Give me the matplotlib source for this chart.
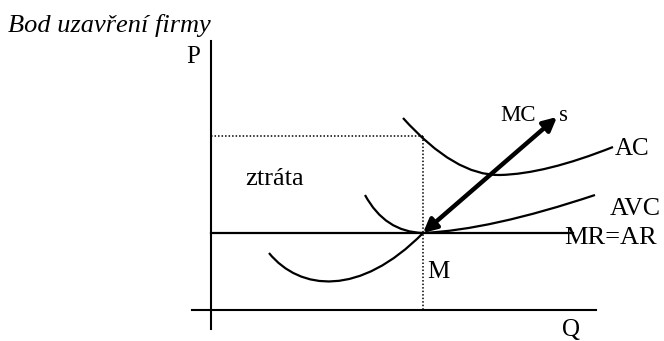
import matplotlib as mpl
mpl.use('Agg')
import matplotlib.pyplot as plt
from matplotlib.path import Path
from matplotlib.patches import PathPatch, FancyArrowPatch

# souradnice schematu (v pixelech obrazku, osa y smeruje dolu)
osa_p = [(211, 41), (211, 329)]
osa_q = [(192, 310), (596, 310)]
mr_ar = [(211, 233), (573, 233)]
bod_m = (423, 233)
cena_ac = 136

# krivky jako Bezierovy body (start, ridici, konec)
mc_body = [(269, 253), (300, 291), (360, 297), (423, 233)]
avc_levy = [(365, 195), (385, 232), (423, 233)]
avc_pravy = [(423, 233), (490, 230), (595, 195)]
ac_levy = [(403, 118), (455, 176), (500, 175)]
ac_pravy = [(500, 175), (545, 174), (613, 147)]
sipka_mc = [(423, 233), (557, 117)]

# (text, x, y, velikost)
popisky = [
    ("P", 186, 63, 18), ("Q", 562, 336, 18), ("M", 427, 278, 18),
    ("ztráta", 245, 185, 19), ("MC", 500, 121, 16.5), ("s", 559, 121, 16.5),
    ("AC", 615, 155, 18), ("AVC", 610, 215, 18.5), ("MR=AR", 564, 244, 19),
]

fig = plt.figure(figsize=(6.64, 3.41), dpi=100)
ax = fig.add_axes([0, 0, 1, 1])
ax.set_xlim(0, 664)
ax.set_ylim(341, 0)
ax.axis('off')

# osy
ax.plot(*zip(*osa_p), color='black', lw=1.5)
ax.plot(*zip(*osa_q), color='black', lw=1.5)
ax.plot(*zip(*mr_ar), color='black', lw=1.6)

# teckovane cary
ax.plot([osa_p[0][0], bod_m[0]], [cena_ac, cena_ac], color='black', lw=1.1, ls=(0, (1, 1.3)))
ax.plot([bod_m[0], bod_m[0]], [cena_ac, osa_q[0][1]], color='black', lw=1.1, ls=(0, (1, 1.3)))


def krivka(body):
    kody = [Path.MOVETO] + ([Path.CURVE4] * 3 if len(body) == 4 else [Path.CURVE3] * 2)
    ax.add_patch(PathPatch(Path(body, kody), fill=False, color='black', lw=1.6))


for b in [mc_body, avc_levy, avc_pravy, ac_levy, ac_pravy]:
    krivka(b)

ax.add_patch(FancyArrowPatch(sipka_mc[0], sipka_mc[1], arrowstyle='<|-|>',
                             mutation_scale=20, color='black', lw=3.2,
                             shrinkA=0, shrinkB=0))

for t, x, y, s in popisky:
    ax.text(x, y, t, fontsize=s, family='Liberation Serif', ha='left', va='baseline')

ax.text(8, 32, "Bod uzavření firmy", fontsize=19, family='Liberation Serif',
        style='italic', ha='left', va='baseline')

fig.savefig('out.png')
